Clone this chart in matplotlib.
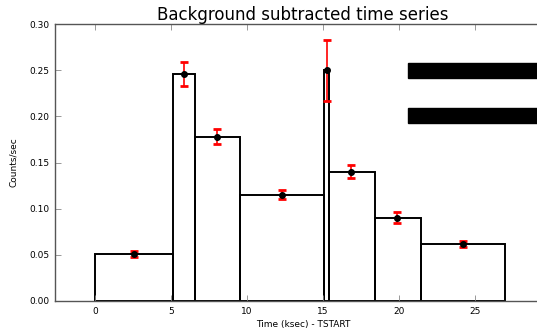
import matplotlib
matplotlib.use("Agg")
import matplotlib.pyplot as plt
from matplotlib.patches import Rectangle

# Bin edges (ksec) and background-subtracted rates
bin_left = [0.0, 5.1, 6.55, 9.55, 15.05, 15.4, 18.4, 21.45]
bin_right = [5.1, 6.55, 9.55, 15.05, 15.4, 18.4, 21.45, 27.0]
rates = [0.051, 0.246, 0.178, 0.115, 0.250, 0.140, 0.090, 0.062]
point_x = [2.55, 5.85, 8.0, 12.3, 15.25, 16.85, 19.9, 24.2]
errors = [0.003, 0.013, 0.008, 0.005, 0.033, 0.007, 0.006, 0.003]
xticks = [0, 5, 10, 15, 20, 25]
yticks = [0.00, 0.05, 0.10, 0.15, 0.20, 0.25, 0.30]

W, H = 537, 329
fig = plt.figure(figsize=(W / 100, H / 100), dpi=100)
ax = fig.add_axes([55 / W, 28 / H, 496 / W, 277 / H])

widths = [r - l for l, r in zip(bin_left, bin_right)]
ax.bar(bin_left, rates, width=widths, align="edge", fill=False,
       edgecolor="black", linewidth=1.4)
ax.errorbar(point_x, rates, yerr=errors, fmt="o", color="black", ms=4,
            ecolor="red", elinewidth=1.2, capsize=3, capthick=2)

# Black legend-like bars at the right
for y0 in (0.805, 0.643):
    ax.add_patch(Rectangle((0.712, y0), 0.4, 0.054, transform=ax.transAxes,
                           facecolor="black", edgecolor="black", clip_on=True))

ax.set_xlim(-2.63, 30)
ax.set_ylim(0, 0.30)
ax.set_xticks(xticks)
ax.set_yticks(yticks)
ax.set_yticklabels([f"{v:.2f}" for v in yticks])
ax.tick_params(direction="in", labelsize=6.5, top=True, right=False,
               length=4, width=0.6, color="#888888", pad=4)
for s in ax.spines.values():
    s.set_linewidth(1.0)
    s.set_color("#555555")
ax.set_title("Background subtracted time series", fontsize=12, pad=3)
ax.set_xlabel("Time (ksec) - TSTART", fontsize=6.5, labelpad=3)
ax.set_ylabel("Counts/sec", fontsize=6.5, labelpad=8)

fig.savefig("out.png", dpi=100)
